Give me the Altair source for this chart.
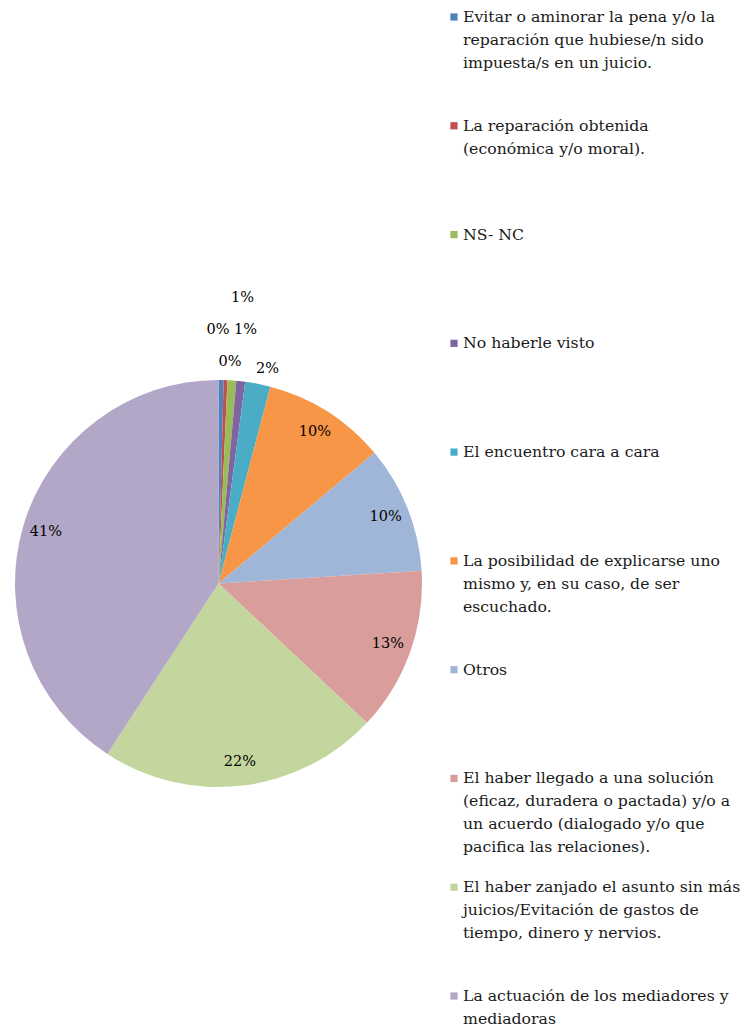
import altair as alt
import pandas as pd

categories = [
    "Evitar o aminorar la pena y/o la reparación que hubiese/n sido impuesta/s en un juicio.",
    "La reparación obtenida (económica y/o moral).",
    "NS- NC",
    "No haberle visto",
    "El encuentro cara a cara",
    "La posibilidad de explicarse uno mismo y, en su caso, de ser escuchado.",
    "Otros",
    "El haber llegado a una solución (eficaz, duradera o pactada) y/o a un acuerdo (dialogado y/o que pacifica las relaciones).",
    "El haber zanjado el asunto sin más juicios/Evitación de gastos de tiempo, dinero y nervios.",
    "La actuación de los mediadores y mediadoras",
]
legend_lines = [
    "Evitar o aminorar la pena y/o la\nreparación que hubiese/n sido\nimpuesta/s en un juicio.",
    "La reparación obtenida\n(económica y/o moral).",
    "NS- NC",
    "No haberle visto",
    "El encuentro cara a cara",
    "La posibilidad de explicarse uno\nmismo y, en su caso, de ser\nescuchado.",
    "Otros",
    "El haber llegado a una solución\n(eficaz, duradera o pactada) y/o a\nun acuerdo (dialogado y/o que\npacifica las relaciones).",
    "El haber zanjado el asunto sin más\njuicios/Evitación de gastos de\ntiempo, dinero y nervios.",
    "La actuación de los mediadores y\nmediadoras",
]
values = [0.4, 0.3, 0.7, 0.7, 2.0, 9.8, 10.1, 13.0, 22.2, 40.8]
colors = ["#4F81BD", "#C0504D", "#9BBB59", "#8064A2", "#4BACC6",
          "#F79646", "#9FB6D9", "#D99D9C", "#C3D69D", "#B3A7C8"]

df = pd.DataFrame({
    "cat": categories,
    "legend": legend_lines,
    "value": values,
    "order": list(range(len(values))),
})

FONT = "DejaVu Serif"
CX, CY, R = 210.5, 575.5, 203.5

color = alt.Color("cat:N", scale=alt.Scale(domain=categories, range=colors), legend=None)
base = alt.Chart(df)

pie = base.mark_arc(x=CX, y=CY, outerRadius=R).encode(
    theta=alt.Theta("value:Q", stack=True),
    color=color,
    order=alt.Order("order:Q"),
)

labels = base.transform_window(
    cum="sum(value)", sort=[{"field": "order"}], frame=[None, 0]
).transform_joinaggregate(
    total="sum(value)"
).transform_calculate(
    mid="(datum.cum - datum.value / 2) / datum.total * 2 * PI",
    ox="[11.5, -0.5, 27, 24, 49][datum.order]",
    oy="[-221.5, -253.5, -253.5, -285.5, -214.5][datum.order]",
).transform_calculate(
    lt="datum.order < 5 ? atan2(datum.ox, -datum.oy) : datum.mid",
    lr="datum.order < 5 ? sqrt(datum.ox * datum.ox + datum.oy * datum.oy) : 180",
    txt="format(datum.value, '.0f') + '%'",
).mark_text(x=CX, y=CY, font=FONT, fontSize=14.5, color="#000000").encode(
    theta=alt.Theta("lt:Q", scale=None, stack=None),
    radius=alt.Radius("lr:Q", scale=None),
    text="txt:N",
)

yscale = alt.Scale(domain=[0, 9], range=[9, 988])

squares = base.mark_square(size=52, opacity=1).encode(
    x=alt.value(446),
    y=alt.Y("order:Q", scale=yscale, axis=None),
    color=color,
)

ltext = base.transform_calculate(
    lines="split(datum.legend, '\\n')"
).mark_text(align="left", baseline="top", dy=-7, font=FONT, fontSize=15.7,
            lineHeight=23, color="#1a1a1a").encode(
    x=alt.value(455),
    y=alt.Y("order:Q", scale=yscale, axis=None),
    text="lines:N",
)

chart = alt.layer(pie, labels, squares, ltext).properties(
    width=733, height=1012, padding=0
).configure_view(stroke=None)

chart.save("out.html", embed_options={"renderer": "svg", "actions": False})
